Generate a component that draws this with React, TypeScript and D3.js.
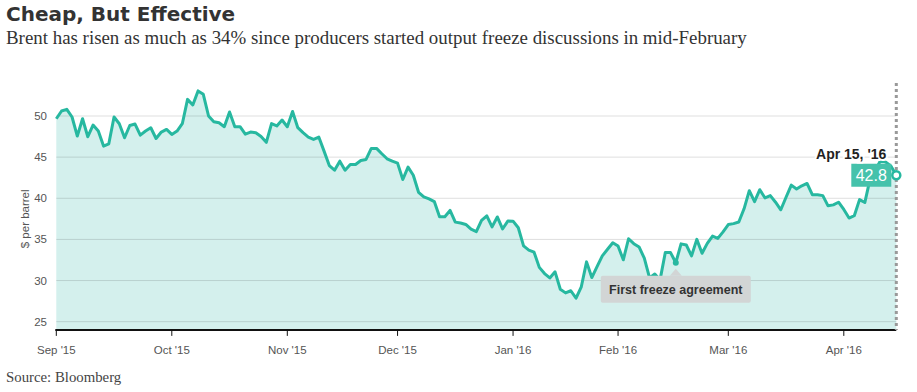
import React, { useEffect, useRef } from 'react';
import * as d3 from 'd3';

// Brent crude, daily closes ($ per barrel), one array per month of trading days
const sep15 = [49.67, 50.61, 50.81, 49.88, 47.56, 49.67, 47.48, 48.9, 48.17, 46.34, 46.62, 49.88, 49.06, 47.36, 48.85, 49.02, 47.68, 48.17, 48.57, 47.27, 48.05, 48.37];
const oct15 = [47.76, 48.17, 49.06, 52.02, 51.34, 53.05, 52.63, 50.0, 49.3, 49.18, 48.7, 50.49, 48.7, 48.7, 47.8, 48.05, 47.96, 47.5, 46.8, 49.07, 48.8, 49.51];
const nov15 = [48.7, 50.55, 48.58, 47.97, 47.44, 47.15, 47.44, 45.73, 43.98, 43.41, 44.51, 43.41, 44.11, 44.11, 44.59, 44.72, 46.06, 46.06, 45.41, 44.8, 44.51];
const dec15 = [44.27, 42.28, 43.78, 42.8, 40.73, 40.16, 39.92, 39.6, 37.75, 37.75, 38.52, 37.1, 37.0, 36.82, 36.24, 35.95, 37.31, 37.87, 36.52, 37.73, 36.27, 37.23];
const jan16 = [37.22, 36.42, 34.21, 33.7, 33.45, 31.6, 30.85, 30.32, 31.06, 28.94, 28.5, 28.76, 27.85, 29.24, 32.27, 30.36, 31.7, 33.0, 33.8, 34.6];
const feb16 = [34.2, 32.52, 35.08, 34.48, 34.08, 32.72, 30.32, 30.8, 30.08, 33.4, 33.4, 32.16, 34.46, 34.32, 33.0, 35.0, 33.32, 34.52, 35.4, 35.12, 35.92];
const mar16 = [36.8, 36.92, 37.12, 38.72, 40.92, 39.6, 41.04, 40.04, 40.32, 39.52, 38.6, 40.12, 41.6, 41.12, 41.52, 41.8, 40.44, 40.44, 40.32, 39.08, 39.2, 39.52];
const apr16 = [38.64, 37.6, 37.88, 39.84, 39.48, 42.32, 43.4, 44.6, 44.4, 43.9, 42.8];

const monthLabels = ["Sep '15", "Oct '15", "Nov '15", "Dec '15", "Jan '16", "Feb '16", "Mar '16", "Apr '16"];
const monthSeries = [sep15, oct15, nov15, dec15, jan16, feb16, mar16, apr16];

const yTicks = [25, 30, 35, 40, 45, 50];

// first freeze agreement: Feb 16 2016 = 12th trading day of February
const freezeMonth = 5;
const freezeDay = 11;
const freezeLabel = 'First freeze agreement';
const lastLabel = "Apr 15, '16";

const title = 'Cheap, But Effective';
const subtitle = 'Brent has risen as much as 34% since producers started output freeze discussions in mid-February';
const source = 'Source: Bloomberg';

const App: React.FC = () => {
  const ref = useRef<SVGSVGElement>(null);

  useEffect(() => {
    const width = 917;
    const height = 392;
    const sans = '"Liberation Sans", Arial, sans-serif';

    const svg = d3.select(ref.current).attr('width', width).attr('height', height);
    svg.selectAll('*').remove();

    // flatten months into one trading-day series
    const data: { i: number; v: number }[] = [];
    const monthStart: number[] = [];
    monthSeries.forEach(arr => {
      monthStart.push(data.length);
      arr.forEach(v => data.push({ i: data.length, v }));
    });

    const x = d3.scaleLinear().domain([0, data.length - 1]).range([56.3, 896.3]);
    const y = d3.scaleLinear().domain([24, 54]).range([329.9, 83.1]);

    // titles
    svg.append('text')
      .attr('x', 6).attr('y', 21)
      .attr('font-family', '"DejaVu Sans", sans-serif')
      .attr('font-weight', 'bold')
      .attr('font-size', 20)
      .attr('fill', '#333')
      .text(title);

    svg.append('text')
      .attr('x', 6).attr('y', 44)
      .attr('font-family', '"Liberation Serif", serif')
      .attr('font-size', 18.9)
      .attr('fill', '#333')
      .text(subtitle);

    svg.append('text')
      .attr('x', 6).attr('y', 382)
      .attr('font-family', '"Liberation Serif", serif')
      .attr('font-size', 14.8)
      .attr('fill', '#444')
      .text(source);

    // area + line
    const area = d3.area<{ i: number; v: number }>()
      .x(d => x(d.i))
      .y0(y(24))
      .y1(d => y(d.v));

    const line = d3.line<{ i: number; v: number }>()
      .x(d => x(d.i))
      .y(d => y(d.v));

    svg.append('path')
      .datum(data)
      .attr('fill', '#d4f0ed')
      .attr('d', area);

    // gridlines drawn over fill
    svg.append('g')
      .selectAll('line')
      .data(yTicks)
      .join('line')
      .attr('x1', x(0))
      .attr('x2', x(data.length - 1))
      .attr('y1', d => y(d))
      .attr('y2', d => y(d))
      .attr('stroke', 'rgba(0,0,0,0.13)')
      .attr('stroke-width', 1);

    svg.append('g')
      .selectAll('text')
      .data(yTicks)
      .join('text')
      .attr('x', 47)
      .attr('y', d => y(d))
      .attr('dy', '0.35em')
      .attr('text-anchor', 'end')
      .attr('font-family', sans)
      .attr('font-size', 11.5)
      .attr('fill', '#555')
      .text(d => d);

    svg.append('text')
      .attr('transform', `translate(29,${y(37.5)}) rotate(-90)`)
      .attr('text-anchor', 'middle')
      .attr('font-family', sans)
      .attr('font-size', 11.5)
      .attr('fill', '#555')
      .text('$ per barrel');

    svg.append('path')
      .datum(data)
      .attr('fill', 'none')
      .attr('stroke', '#27b8a0')
      .attr('stroke-width', 3)
      .attr('stroke-linejoin', 'round')
      .attr('d', line);

    // x axis
    const xAxis = svg.append('g');
    xAxis.append('line')
      .attr('x1', x(0) - 1)
      .attr('x2', x(data.length - 1))
      .attr('y1', y(24))
      .attr('y2', y(24))
      .attr('stroke', '#111')
      .attr('stroke-width', 2);

    xAxis.selectAll('line.tick')
      .data(monthStart)
      .join('line')
      .attr('class', 'tick')
      .attr('x1', d => x(d))
      .attr('x2', d => x(d))
      .attr('y1', y(24))
      .attr('y2', y(24) + 6)
      .attr('stroke', '#111')
      .attr('stroke-width', 1);

    xAxis.selectAll('text')
      .data(monthStart)
      .join('text')
      .attr('x', d => x(d))
      .attr('y', 354)
      .attr('text-anchor', 'middle')
      .attr('font-family', sans)
      .attr('font-size', 11.5)
      .attr('fill', '#555')
      .text((d, k) => monthLabels[k]);

    // dotted marker at last date
    const last = data[data.length - 1];
    svg.append('line')
      .attr('x1', x(last.i))
      .attr('x2', x(last.i))
      .attr('y1', y(54))
      .attr('y2', y(24))
      .attr('stroke', '#999')
      .attr('stroke-width', 3)
      .attr('stroke-dasharray', '3,3');

    svg.append('circle')
      .attr('cx', x(last.i))
      .attr('cy', y(last.v))
      .attr('r', 4)
      .attr('fill', '#fff')
      .attr('stroke', '#27b8a0')
      .attr('stroke-width', 2.5);

    const bw = 40, bh = 23;
    svg.append('rect')
      .attr('x', x(last.i) - 5 - bw)
      .attr('y', y(last.v) - bh / 2)
      .attr('width', bw)
      .attr('height', bh)
      .attr('fill', '#45c2ab');

    svg.append('text')
      .attr('x', x(last.i) - 5 - bw / 2)
      .attr('y', y(last.v))
      .attr('dy', '0.36em')
      .attr('text-anchor', 'middle')
      .attr('font-family', sans)
      .attr('font-size', 16)
      .attr('fill', '#fff')
      .text(d3.format('.1f')(last.v));

    svg.append('text')
      .attr('x', x(last.i) - 10)
      .attr('y', y(last.v) - bh / 2 - 5)
      .attr('text-anchor', 'end')
      .attr('font-family', sans)
      .attr('font-weight', 'bold')
      .attr('font-size', 14)
      .attr('fill', '#222')
      .attr('stroke', '#fff')
      .attr('stroke-width', 4)
      .attr('paint-order', 'stroke')
      .text(lastLabel);

    // freeze annotation
    const f = data[monthStart[freezeMonth] + freezeDay];
    const fx = x(f.i), fy = y(f.v);
    svg.append('circle')
      .attr('cx', fx).attr('cy', fy).attr('r', 3)
      .attr('fill', '#27b8a0');

    const aw = 150, ah = 27, atop = fy + 13;
    svg.append('path')
      .attr('d', `M${fx - 6},${atop} L${fx},${atop - 7} L${fx + 6},${atop} Z`)
      .attr('fill', '#d2d5d5');
    svg.append('rect')
      .attr('x', fx - aw / 2)
      .attr('y', atop)
      .attr('width', aw)
      .attr('height', ah)
      .attr('rx', 2)
      .attr('fill', '#d2d5d5');
    svg.append('text')
      .attr('x', fx)
      .attr('y', atop + ah / 2)
      .attr('dy', '0.36em')
      .attr('text-anchor', 'middle')
      .attr('font-family', sans)
      .attr('font-weight', 'bold')
      .attr('font-size', 12.5)
      .attr('fill', '#333')
      .text(freezeLabel);
  }, []);

  return <svg ref={ref} style={{ position: 'absolute', left: 0, top: 0 }}></svg>;
};

export default App;
